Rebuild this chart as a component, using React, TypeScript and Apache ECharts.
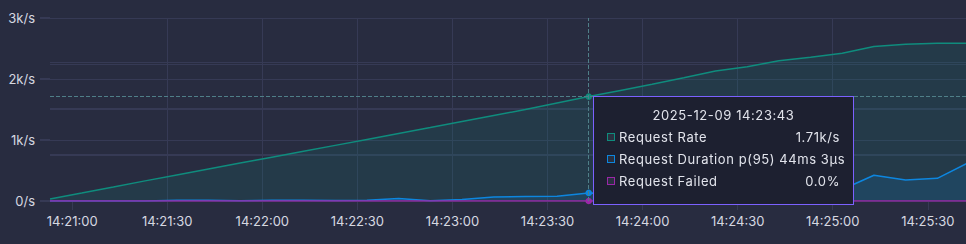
import React, { useEffect, useRef } from "react";
import * as echarts from "echarts";

// ---- data ----
const times = [
  "14:20:53", "14:21:03", "14:21:13", "14:21:23", "14:21:33", "14:21:43", "14:21:53",
  "14:22:03", "14:22:13", "14:22:23", "14:22:33", "14:22:43", "14:22:53", "14:23:03",
  "14:23:13", "14:23:23", "14:23:33", "14:23:43", "14:23:53", "14:24:03", "14:24:13",
  "14:24:23", "14:24:33", "14:24:43", "14:24:53", "14:25:03", "14:25:13", "14:25:23",
  "14:25:33", "14:25:43", "14:25:53",
];
const requestRate = [
  33, 130, 228, 330, 428, 525, 622, 718, 815, 912, 1010, 1108, 1205, 1304, 1402, 1500,
  1606, 1712, 1812, 1913, 2019, 2131, 2201, 2300, 2355, 2421, 2532, 2568, 2585, 2585, 2585,
];
const durationP95Ms = [
  0, 0, 0.3, 0.5, 4, 4.5, 0.8, 3.5, 3.5, 2.8, 3.8, 13, 1.6, 8, 22, 24.5, 26, 44.003,
  41, 47, 52, 49, 55, 58, 60, 63, 141, 115, 124, 211, 240,
];
const requestFailed = [
  0, 0, 0, 0, 0, 0, 0, 0, 0, 0, 0, 0, 0, 0, 0, 0, 0, 0, 0, 0, 0, 0, 0, 0, 0, 0, 0, 0, 0, 0, 0,
];
const xTickLabels = [
  "14:21:00", "14:21:30", "14:22:00", "14:22:30", "14:23:00",
  "14:23:30", "14:24:00", "14:24:30", "14:25:00", "14:25:30",
];
const seriesNames = ["Request Rate", "Request Duration p(95)", "Request Failed"];
const seriesColors = ["#0f8c7d", "#0d86df", "#9b27a8"];
const X_MIN = "14:20:53";
const X_MAX = "14:25:43";
const HOVER_TIME = "14:23:43";
const RATE_MAX = 3000;
const RATE_STEP = 1000;

const toTs = (t: string) => {
  const [h, m, s] = t.split(":").map(Number);
  return new Date(2025, 11, 9, h, m, s).getTime();
};
const pad = (n: number) => String(n).padStart(2, "0");
const fmtClock = (ts: number) => {
  const d = new Date(ts);
  return `${pad(d.getHours())}:${pad(d.getMinutes())}:${pad(d.getSeconds())}`;
};
const fmtRate = (v: number) =>
  v === 0 ? "0/s" : v >= 1000 ? parseFloat((v / 1000).toFixed(2)) + "k/s" : v + "/s";
const fmtDuration = (ms: number) => {
  const whole = Math.floor(ms);
  const us = Math.round((ms - whole) * 1000);
  return us ? `${whole}ms ${us}µs` : `${whole}ms`;
};
const fmtPct = (v: number) => (v * 100).toFixed(1) + "%";

const BG = "#282c40";
const GRID = "#363a55";
const LABEL = "#d6d8e0";
const FONT = "Inter, 'Noto Sans', sans-serif";

export default function App() {
  const ref = useRef<HTMLDivElement>(null);
  useEffect(() => {
    document.body.style.margin = "0";
    document.body.style.background = BG;
    document.body.style.overflow = "hidden";
    const chart = echarts.init(ref.current!, undefined, { renderer: "svg" });
    const mk = (vals: number[]) => vals.map((v, i) => [toTs(times[i]), v]);
    const formatters = [fmtRate, fmtDuration, fmtPct];
    const tickValues = xTickLabels.map(toTs);
    chart.setOption({
      animation: false,
      backgroundColor: BG,
      textStyle: { fontFamily: FONT },
      grid: { left: 50, right: 0, top: 18, bottom: 43, containLabel: false, outerBoundsMode: "none" },
      tooltip: {
        trigger: "axis",
        triggerOn: "none",
        alwaysShowContent: true,
        transitionDuration: 0,
        backgroundColor: "#1d2030",
        borderColor: "#7b61ff",
        borderWidth: 1,
        borderRadius: 0,
        padding: [7, 13, 12, 13],
        extraCssText: "box-shadow:none;",
        position: (p: number[]) => [p[0], p[1] - 1],
        axisPointer: {
          type: "cross",
          label: { show: false },
          lineStyle: { color: "#4f7f88", type: "dashed", width: 1 },
          crossStyle: { color: "#4f7f88", type: "dashed", width: 1 },
        },
        formatter: (params: any[]) => {
          const ts = params[0].value[0];
          const d = new Date(ts);
          const title = `${d.getFullYear()}-${pad(d.getMonth() + 1)}-${pad(d.getDate())} ${fmtClock(ts)}`;
          const rows = params
            .map((p: any) => {
              const c = seriesColors[p.seriesIndex];
              const val = formatters[p.seriesIndex](p.value[1]);
              return `<div style="display:flex;justify-content:space-between;align-items:center;height:22px;">
                <span style="display:flex;align-items:center;"><span style="display:inline-block;box-sizing:border-box;width:8px;height:8px;border:1.5px solid ${c};background:#2a3140;margin-right:4px;"></span>${p.seriesName}</span>
                <span style="margin-left:4px;">${val}</span></div>`;
            })
            .join("");
          return `<div style="width:233px;font-family:${FONT};font-size:13px;letter-spacing:0.6px;color:#e2e4ec;line-height:22px;">
            <div style="text-align:center;height:22px;">${title}</div>${rows}</div>`;
        },
      },
      xAxis: {
        type: "value",
        min: toTs(X_MIN),
        max: toTs(X_MAX),
        axisLine: { show: false },
        axisTick: { show: true, length: 9, customValues: tickValues, lineStyle: { color: GRID } },
        splitLine: { show: true, showMinLine: false, showMaxLine: false, lineStyle: { color: GRID } },
        axisLabel: {
          color: LABEL,
          fontSize: 13,
          fontFamily: FONT,
          margin: 13,
          customValues: tickValues,
          hideOverlap: false,
          formatter: (v: number) => fmtClock(v),
        },
      },
      yAxis: [
        {
          type: "value",
          min: 0,
          max: RATE_MAX,
          interval: RATE_STEP,
          axisLine: { show: false },
          axisTick: { show: true, length: 10, lineStyle: { color: GRID, width: 2 } },
          splitLine: { lineStyle: { color: GRID } },
          axisLabel: { color: LABEL, fontSize: 13, fontFamily: FONT, margin: 15, formatter: fmtRate },
        },
        {
          type: "value",
          min: 0,
          max: 1000,
          interval: 250,
          axisLine: { show: false },
          axisTick: { show: false },
          axisLabel: { show: false },
          splitLine: { lineStyle: { color: GRID } },
        },
        {
          type: "value",
          min: 0,
          max: 3.95,
          interval: 1,
          axisLine: { show: false },
          axisTick: { show: false },
          axisLabel: { show: false },
          splitLine: { lineStyle: { color: GRID } },
        },
      ],
      series: [requestRate, durationP95Ms, requestFailed].map((vals, i) => ({
        name: seriesNames[i],
        type: "line",
        yAxisIndex: i,
        data: mk(vals),
        showSymbol: false,
        symbol: "circle",
        symbolSize: 6,
        clip: true,
        color: seriesColors[i],
        lineStyle: { width: 1.5, color: seriesColors[i] },
        areaStyle: { color: seriesColors[i], opacity: 0.15 },
        emphasis: { disabled: true },
      })),
    });
    const hoverX = chart.convertToPixel({ xAxisIndex: 0 }, toTs(HOVER_TIME)) + 4;
    const hoverY = chart.convertToPixel({ yAxisIndex: 0 }, requestRate[times.indexOf(HOVER_TIME)]);
    chart.dispatchAction({ type: "showTip", x: hoverX, y: hoverY });
    return () => chart.dispose();
  }, []);
  return (
    <div style={{ width: 966, height: 244, overflow: "hidden", background: BG }}>
      <div ref={ref} style={{ width: 969, height: 244 }} />
    </div>
  );
}
